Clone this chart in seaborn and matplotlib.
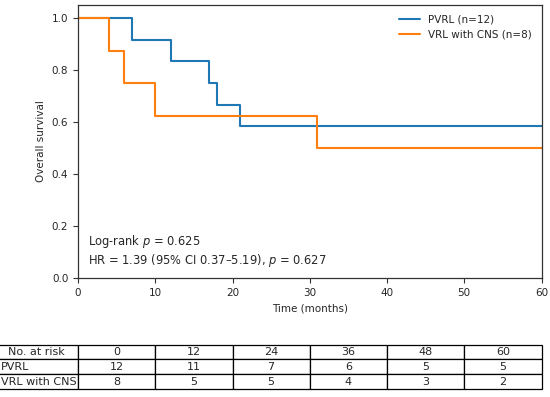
import pandas as pd
import matplotlib.pyplot as plt
import seaborn as sns

# Kaplan-Meier step values
pvrl_time = [0, 7, 12, 17, 18, 21, 60]
pvrl_surv = [1.0, 0.917, 0.833, 0.75, 0.667, 0.583, 0.583]
cns_time = [0, 4, 6, 10, 31, 60]
cns_surv = [1.0, 0.875, 0.75, 0.625, 0.5, 0.5]

group_labels = ['PVRL (n=12)', 'VRL with CNS (n=8)']
colors = ['#1f77b4', '#ff7f0e']

# number at risk table
risk_times = [0, 12, 24, 36, 48, 60]
risk_pvrl = [12, 11, 7, 6, 5, 5]
risk_cns = [8, 5, 5, 4, 3, 2]

df = pd.concat([
    pd.DataFrame({'time': pvrl_time, 'surv': pvrl_surv, 'group': group_labels[0]}),
    pd.DataFrame({'time': cns_time, 'surv': cns_surv, 'group': group_labels[1]}),
])

sns.set_style('ticks')
plt.rcParams['font.family'] = ['DejaVu Sans']
fs = 7.5

fig = plt.figure(figsize=(5.5, 3.97), dpi=100)
ax = fig.add_axes([78 / 550, 1 - 278 / 397, (541.5 - 78) / 550, (278 - 5) / 397])

sns.lineplot(data=df, x='time', y='surv', hue='group', palette=colors,
             drawstyle='steps-post', linewidth=1.5, ax=ax, estimator=None, sort=False)

ax.set_xlim(0, 60)
ax.set_ylim(0, 1.05)
ax.set_yticks([0, 0.2, 0.4, 0.6, 0.8, 1.0])
ax.set_xticks([0, 10, 20, 30, 40, 50, 60])
ax.tick_params(labelsize=fs, length=3.5, width=0.8, color='#333333')
ax.set_xlabel('Time (months)', fontsize=fs)
ax.set_ylabel('Overall survival', fontsize=fs)
for s in ax.spines.values():
    s.set_color('#333333')
    s.set_linewidth(0.9)

ax.legend(title=None, loc='upper right', frameon=False, fontsize=fs)

ax.text(1.3, 0.125, 'Log-rank $p$ = 0.625', fontsize=8.3)
ax.text(1.3, 0.055, 'HR = 1.39 (95% CI 0.37\u20135.19), $p$ = 0.627', fontsize=8.3)

# table of number at risk (left edge runs off the figure, like the original)
tax = fig.add_axes([-6 / 550, 1 - 389 / 397, 547.5 / 550, 44.5 / 397])
tax.axis('off')
cells = [['No. at risk'] + [str(t) for t in risk_times],
         ['PVRL'] + [str(v) for v in risk_pvrl],
         ['VRL with CNS'] + [str(v) for v in risk_cns]]
widths = [84 / 547.5] + [77.25 / 547.5] * 6
tab = tax.table(cellText=cells, colWidths=widths, bbox=[0, 0, 1, 1], cellLoc='center')
tab.auto_set_font_size(False)
tab.set_fontsize(8)
for (r, c), cell in tab.get_celld().items():
    cell.set_linewidth(0.9)
    if c == 0 and r > 0:
        cell.get_text().set_ha('left')
        cell.PAD = 0.08

fig.savefig('out.png', dpi=100)
